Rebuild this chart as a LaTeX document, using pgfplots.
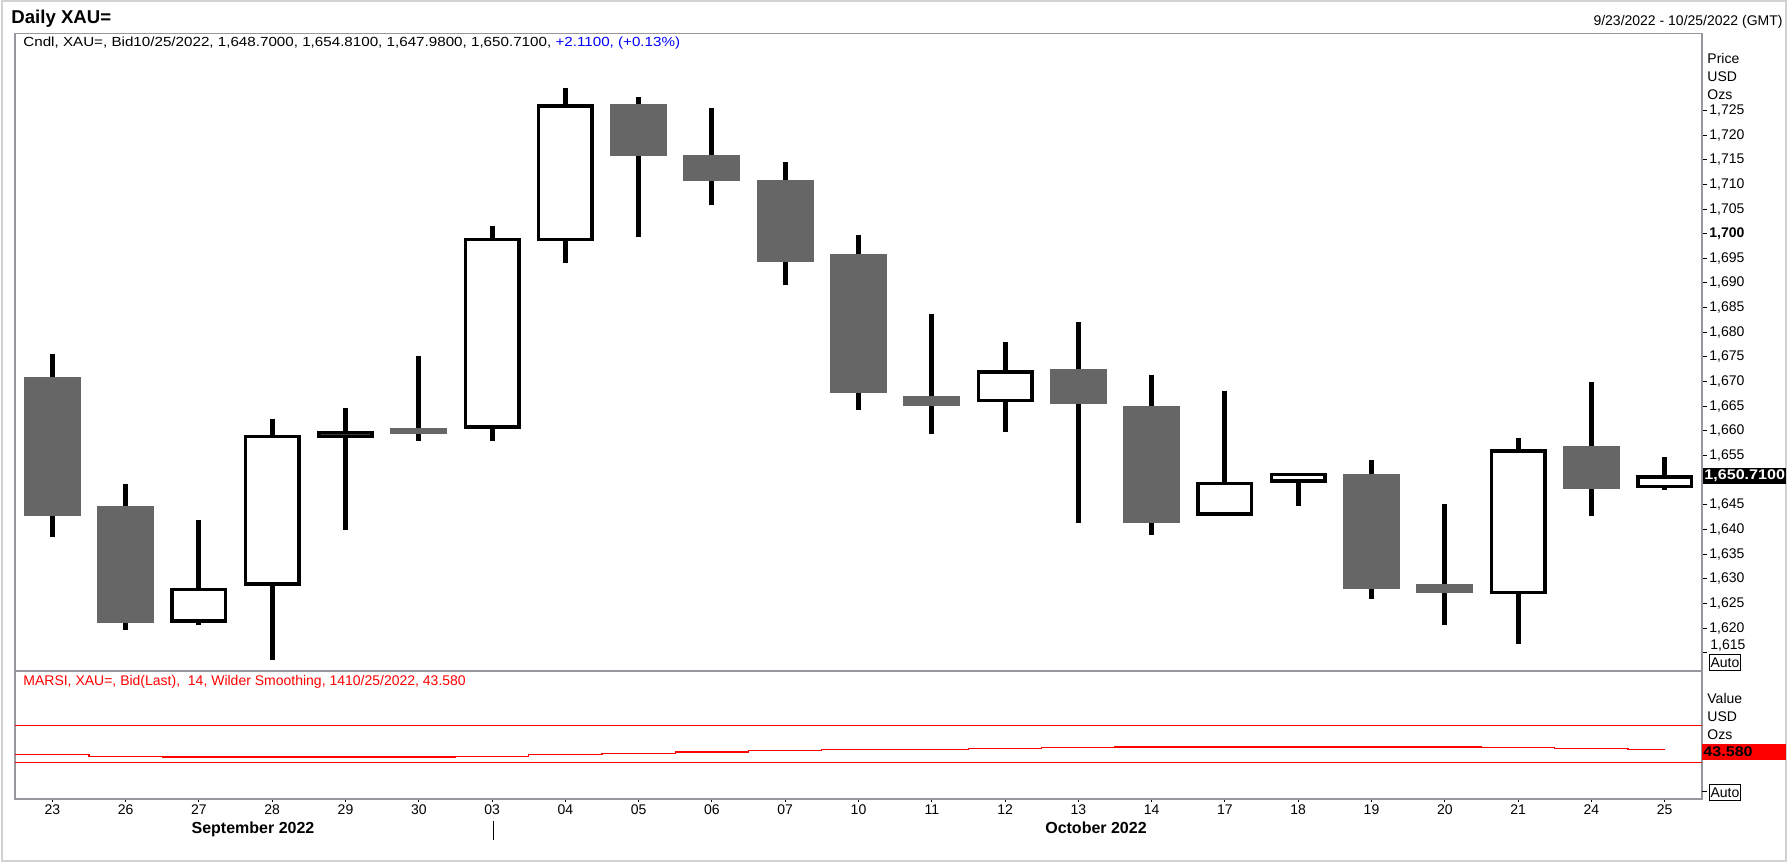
\documentclass[border=0pt]{standalone}
\usepackage{fontspec}
\setmainfont{Liberation Sans}
\newfontfamily\widefont{Liberation Sans}[FakeStretch=1.15]
\usepackage{pgfplots}
\pgfplotsset{compat=1.18}
\usepackage{pgfplotstable}

\definecolor{candlegray}{HTML}{666666}
\definecolor{framegray}{RGB}{150,150,158}
\definecolor{bluetxt}{RGB}{0,0,255}
\definecolor{rsired}{RGB}{255,0,0}

% down (filled grey) candles: index, open, high, low, close
\pgfplotstableread{
i o h l c
0 1671.0 1675.7 1638.5 1642.8
1 1644.8 1649.3 1619.7 1621.1
5 1660.55 1675.1 1658.0 1659.45
8 1726.3 1727.7 1699.3 1715.7
9 1715.9 1725.5 1705.8 1710.7
10 1710.9 1714.6 1689.6 1694.3
11 1695.8 1699.8 1664.2 1667.7
12 1667.1 1683.7 1659.3 1665.0
14 1672.6 1682.0 1641.4 1665.5
15 1665.0 1671.4 1638.9 1641.4
18 1651.2 1654.1 1626.0 1628.0
19 1629.0 1645.2 1620.7 1627.2
21 1656.9 1669.9 1642.7 1648.2
}\downs

% up (hollow) candles
\pgfplotstableread{
i o h l c
2 1621.5 1642.0 1620.7 1627.8
3 1629.0 1662.4 1613.6 1658.9
4 1659.0 1664.6 1639.9 1659.6
6 1660.8 1701.5 1658.0 1698.8
7 1698.8 1729.5 1694.0 1725.9
13 1666.2 1678.1 1659.7 1672.0
16 1643.2 1668.1 1642.8 1649.3
17 1649.9 1651.3 1644.8 1651.2
20 1627.2 1658.5 1616.7 1655.9
22 1648.70 1654.81 1647.98 1650.71
}\ups

\pgfplotsset{
  errbar/.style 2 args={draw=none, mark=none, forget plot,
    error bars/.cd, y dir=both, y explicit, error mark=none,
    error bar style={draw=#1, line width=#2}},
}

\begin{document}
\begin{tikzpicture}
\path[use as bounding box] (0,0) rectangle (894pt,431pt);
\draw[gray!35, line width=0.8pt] (1pt,0.5pt) rectangle (893pt,430.5pt);

\begin{axis}[
  at={(7.5pt,95.5pt)}, anchor=south west,
  scale only axis, width=843.5pt, height=318.75pt,
  xmin=-0.51, xmax=22.51, ymin=1611.3, ymax=1740.6,
  axis line style={framegray, line width=0.6pt},
  xtick=\empty,
  ytick={1615,1620,...,1725},
  yticklabels={{},{1,620},{1,625},{1,630},{1,635},{1,640},{1,645},{},{1,655},{1,660},{1,665},{1,670},{1,675},{1,680},{1,685},{1,690},{1,695},{\textbf{1,700}},{1,705},{1,710},{1,715},{1,720},{1,725}},
  ytick pos=right, yticklabel pos=right,
  tick align=outside, major tick length=2.5pt,
  tick style={black, line width=0.5pt},
  yticklabel style={font=\fontsize{7}{8}\selectfont, inner sep=1pt, anchor=west},
]
% wicks
\addplot[errbar={black}{2.5pt}]
  table[x=i, y expr={(\thisrow{h}+\thisrow{l})/2}, y error expr={(\thisrow{h}-\thisrow{l})/2}] {\downs};
\addplot[errbar={black}{2.5pt}]
  table[x=i, y expr={(\thisrow{h}+\thisrow{l})/2}, y error expr={(\thisrow{h}-\thisrow{l})/2}] {\ups};
% grey bodies
\addplot[errbar={candlegray}{28.5pt}]
  table[x=i, y expr={(\thisrow{o}+\thisrow{c})/2}, y error expr={abs(\thisrow{o}-\thisrow{c})/2}] {\downs};
% hollow bodies: black outline then white inside
\addplot[errbar={black}{28.5pt}]
  table[x=i, y expr={(\thisrow{o}+\thisrow{c})/2}, y error expr={abs(\thisrow{c}-\thisrow{o})/2+0.365}] {\ups};
\addplot[errbar={white}{24.9pt}]
  table[x=i, y expr={(\thisrow{o}+\thisrow{c})/2}, y error expr={max(abs(\thisrow{c}-\thisrow{o})/2-0.365,0.001)}] {\ups};
\end{axis}

\begin{axis}[
  at={(7.5pt,31.5pt)}, anchor=south west,
  scale only axis, width=843.5pt, height=64pt,
  xmin=-0.51, xmax=22.51, ymin=-9.8, ymax=129.0,
  axis line style={framegray, line width=0.6pt},
  xtick={0,...,22},
  xticklabels={23,26,27,28,29,30,03,04,05,06,07,10,11,12,13,14,17,18,19,20,21,24,25},
  xtick pos=left, ytick=\empty,
  tick align=outside, major tick length=1.5pt,
  tick style={black, line width=0.5pt},
  xticklabel style={font=\fontsize{7}{8}\selectfont, inner sep=1pt},
]
\addplot[rsired, line width=0.5pt] coordinates {(-0.51,70) (22.51,70)};
\addplot[rsired, line width=0.5pt] coordinates {(-0.51,30) (22.51,30)};
\addplot[rsired, line width=0.6pt, const plot mark mid] coordinates {
(-0.51,38.2) (0,38.2) (1,36.7) (2,35.7) (3,35.7) (4,35.7) (5,35.7) (6,36.7)
(7,38.2) (8,39.6) (9,41.1) (10,42.5) (11,43.6) (12,43.6) (13,44.7) (14,45.7)
(15,46.5) (16,46.5) (17,46.5) (18,46.5) (19,46.5) (20,45.7) (21,44.7) (22,43.58)};
\end{axis}

\begin{scope}[x=0.5pt, y=-0.5pt, yshift=431pt]
\node[anchor=base west, inner sep=0, font=\bfseries\fontsize{9.3}{10}\selectfont] at (11,23.3) {Daily XAU=};
\node[anchor=east, inner sep=0, font=\fontsize{7}{8}\selectfont] at (1783,22) {9/23/2022 - 10/25/2022 (GMT)};
\node[anchor=west, inner sep=0, font=\widefont\fontsize{6.6}{8}\selectfont] at (23,43) {Cndl, XAU=, Bid10/25/2022, 1,648.7000, 1,654.8100, 1,647.9800, 1,650.7100, \textcolor{bluetxt}{+2.1100, (+0.13\%)}};
\node[anchor=west, inner sep=0, font=\fontsize{7}{8}\selectfont] at (1707,59) {Price};
\node[anchor=west, inner sep=0, font=\fontsize{7}{8}\selectfont] at (1707,77) {USD};
\node[anchor=west, inner sep=0, font=\fontsize{7}{8}\selectfont] at (1707,95) {Ozs};
\node[anchor=west, inner sep=1pt, font=\fontsize{7}{8}\selectfont] at (1708,645.5) {1,615};
\fill[black] (1703,468) rectangle (1786,483.6);
\node[anchor=west, inner sep=0, text=white, font=\widefont\bfseries\fontsize{7}{8}\selectfont] at (1704,475.8) {1,650.7100};
\node[anchor=west, draw=black, line width=0.4pt, inner xsep=0.6pt, inner ysep=0pt, minimum height=8pt, font=\fontsize{7}{8}\selectfont] at (1709,662.5) {Auto};
\node[anchor=west, inner sep=0, text=rsired, font=\fontsize{7}{8}\selectfont] at (23,682) {MARSI, XAU=, Bid(Last),\ \ 14, Wilder Smoothing, 1410/25/2022, 43.580};
\node[anchor=west, inner sep=0, font=\fontsize{7}{8}\selectfont] at (1707,698.5) {Value};
\node[anchor=west, inner sep=0, font=\fontsize{7}{8}\selectfont] at (1707,717) {USD};
\node[anchor=west, inner sep=0, font=\fontsize{7}{8}\selectfont] at (1707,735) {Ozs};
\fill[rsired] (1702,744.5) rectangle (1786,759.6);
\node[anchor=west, inner sep=0, font=\widefont\bfseries\fontsize{7}{8}\selectfont] at (1703,752) {43.580};
\draw[black, line width=0.5pt] (1702,792) -- (1707,792);
\node[anchor=west, draw=black, line width=0.4pt, inner xsep=0.6pt, inner ysep=0pt, minimum height=8pt, font=\fontsize{7}{8}\selectfont] at (1709,792.5) {Auto};
\node[anchor=base, inner sep=0, font=\bfseries\fontsize{8}{9}\selectfont] at (253,834) {September 2022};
\node[anchor=base, inner sep=0, font=\bfseries\fontsize{8}{9}\selectfont] at (1096,834) {October 2022};
\draw[black, line width=0.5pt] (493,820.6) -- (493,839.7);
\end{scope}
\end{tikzpicture}
\end{document}
